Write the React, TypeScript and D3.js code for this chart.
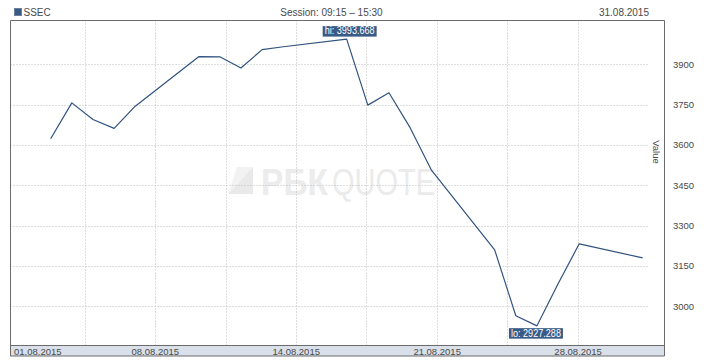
import React from "react";
import * as d3 from "d3";

// ---- data ----
const seriesName = "SSEC";
const sessionText = "Session: 09:15 \u2013 15:30";
const asOfDate = "31.08.2015";
const days = [3, 4, 5, 6, 7, 10, 11, 12, 13, 14, 17, 18, 19, 20, 21, 24, 25, 26, 27, 28, 31];
const values = [
  3622.91, 3756.55, 3694.57, 3661.54, 3744.2, 3928.42, 3927.91, 3886.32, 3954.56, 3965.33,
  3993.668, 3748.16, 3794.11, 3664.29, 3507.74, 3209.91, 2964.97, 2927.288, 3083.59, 3232.35, 3180.0,
];
const yTicks = [3000, 3150, 3300, 3450, 3600, 3750, 3900];
const xGridDays = [4.608, 7.946, 11.275, 14.613, 17.923, 21.28, 24.59, 27.948];
const xLabelDays = [7.946, 14.613, 21.28, 27.948];
const xLabels = ["08.08.2015", "14.08.2015", "21.08.2015", "28.08.2015"];
const firstLabel = "01.08.2015";
const yAxisTitle = "Value";

const W = 718;
const H = 360;
const frameL = 10.5;
const frameT = 20.5;
const frameR = 664.5;
const frameB = 356;
const bandTop = 345.5;
const gridR = 649;

const lineColor = "#30537f";
const boxColor = "#3a5b86";
const textColor = "#4a4a4a";
const font = "'Liberation Sans', Arial, sans-serif";

export default function App() {
  const x = d3.scaleLinear().domain([1, 32]).range([8.4, 663.8]);
  const y = d3.scaleLinear().domain([3000, 3900]).range([306.3, 64.3]);
  const pts = days.map((d, i) => [x(d), y(values[i])] as [number, number]);
  const line = d3.line<[number, number]>().x((p) => p[0]).y((p) => p[1]);

  const hiIdx = values.indexOf(d3.max(values)!);
  const loIdx = values.indexOf(d3.min(values)!);
  const hiX = x(days[hiIdx]);
  const hiY = y(values[hiIdx]);
  const loX = x(days[loIdx]);
  const loY = y(values[loIdx]);
  const hiText = "hi: " + values[hiIdx].toFixed(3);
  const loText = "lo: " + values[loIdx].toFixed(3);
  const boxW = 54;
  const boxH = 10.5;
  const txtW = 50;

  return (
    <svg
      width={W}
      height={H}
      style={{ position: "absolute", left: 0, top: 0, background: "#fff" }}
      fontFamily={font}
    >
      <rect x={0} y={0} width={W} height={H} fill="#fff" />
      {/* header */}
      <rect x={14.5} y={8.5} width={7} height={7} fill={boxColor} stroke="#6a7f9c" strokeWidth={1} />
      <text x={23.5} y={15.5} fontSize={10} fill={textColor}>{seriesName}</text>
      <text x={331.5} y={15.5} fontSize={10} fill={textColor} textAnchor="middle">{sessionText}</text>
      <text x={649} y={15.5} fontSize={10} fill={textColor} textAnchor="end">{asOfDate}</text>

      {/* watermark */}
      <g>
        <polygon points={`237,167 253,167 228,194`} fill="#f2f2f2" />
        <polygon points={`253,167 253,194 228,194`} fill="#e9e9e9" />
        <text x={261} y={195} fontSize={37} fontWeight="bold" fill="#ececec" textLength={67} lengthAdjust="spacingAndGlyphs">РБК</text>
        <text x={332} y={195} fontSize={37} fill="#ebebeb" textLength={103} lengthAdjust="spacingAndGlyphs">QUOTE</text>
      </g>

      {/* grid */}
      {yTicks.map((t) => (
        <line key={"h" + t} x1={frameL} x2={gridR} y1={Math.round(y(t)) + 0.5} y2={Math.round(y(t)) + 0.5}
          stroke="#bdbdbd" strokeDasharray="1 2" strokeWidth={1} />
      ))}
      {xGridDays.map((d) => (
        <line key={"v" + d} x1={Math.round(x(d)) + 0.5} x2={Math.round(x(d)) + 0.5} y1={frameT} y2={bandTop}
          stroke="#bdbdbd" strokeDasharray="1 2" strokeWidth={1} />
      ))}

      {/* x axis band */}
      <rect x={frameL} y={bandTop} width={frameR - frameL} height={frameB - bandTop} fill="#d9e0e9" />
      <line x1={frameL} x2={frameR} y1={bandTop} y2={bandTop} stroke="#6b6b6b" strokeWidth={1} />
      <text x={14} y={355} fontSize={9.5} fill={textColor}>{firstLabel}</text>
      {xLabelDays.map((d, i) => (
        <text key={"xl" + i} x={x(d)} y={355} fontSize={9.5} fill={textColor} textAnchor="middle">{xLabels[i]}</text>
      ))}

      {/* frame */}
      <path d={`M${frameL},${frameB} V${frameT} H${frameR} V${frameB} H${frameL}`} fill="none" stroke="#6b6b6b" strokeWidth={1} />

      {/* y labels */}
      {yTicks.map((t) => (
        <text key={"yl" + t} x={673} y={y(t) + 3.4} fontSize={9.5} fill={textColor}>{t}</text>
      ))}
      <text transform={`translate(653,152) rotate(90)`} fontSize={9.5} fill={textColor} textAnchor="middle">{yAxisTitle}</text>

      {/* series */}
      <path d={line(pts)!} fill="none" stroke={lineColor} strokeWidth={1.2} strokeLinejoin="round" />

      {/* hi / lo labels */}
      <rect x={hiX - boxW / 2 + 3} y={hiY - 2.5 - boxH} width={boxW} height={boxH} fill={boxColor} />
      <text x={hiX + 3 - txtW / 2} y={hiY - 4.8} fontSize={10} fill="#fff" textLength={txtW} lengthAdjust="spacingAndGlyphs">{hiText}</text>
      <rect x={loX - boxW / 2 - 1} y={loY + 2.3} width={boxW} height={boxH} fill={boxColor} />
      <text x={loX - 1 - txtW / 2} y={loY + 2.3 + 8.6} fontSize={10} fill="#fff" textLength={txtW} lengthAdjust="spacingAndGlyphs">{loText}</text>
    </svg>
  );
}
